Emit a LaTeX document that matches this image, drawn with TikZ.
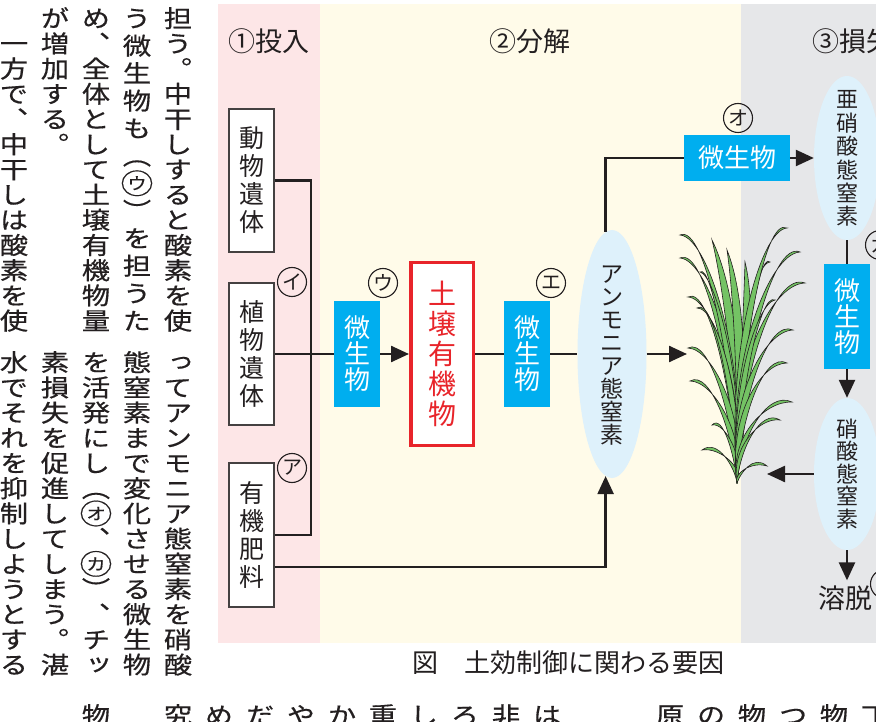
\documentclass[tikz,border=0pt]{standalone}
\usepackage{fontspec}
\usetikzlibrary{shapes.geometric,arrows.meta,calc}

\newfontfamily\jp{Noto Sans CJK JP}
\newfontfamily\jpbody[FakeStretch=1.18,FakeBold=0.5,RawFeature={+vert}]{Noto Sans CJK JP}

\definecolor{ink}{RGB}{35,31,32}
\definecolor{pinkbg}{RGB}{253,230,231}
\definecolor{creambg}{RGB}{255,251,233}
\definecolor{graybg}{RGB}{230,231,233}
\definecolor{lblue}{RGB}{222,241,251}
\definecolor{mblue}{RGB}{0,174,239}
\definecolor{soilred}{RGB}{232,36,42}
\definecolor{leafg}{RGB}{116,195,100}

% stack the characters of #2 one under another, baselines #1 apart
\ExplSyntaxOn
\NewDocumentCommand{\tate}{m m}
  {
    \vbox
      {
        \baselineskip = #1 \relax
        \lineskiplimit = -\maxdimen
        \tl_map_inline:nn {#2}
          { \hbox { \rule[-0.12em]{0pt}{1em} \makebox[1.25em]{##1} } }
      }
  }
\ExplSyntaxOff

% katakana set small inside a large circle, for running text
\newcommand\maru[1]{\makebox[1em]{%
  \makebox[0pt]{\raisebox{-0.06em}{\scalebox{1.15}{◯}}}%
  \makebox[0pt]{\raisebox{0.11em}{\scalebox{0.7}{#1}}}}}

% one rice leaf from the common base: controls #1 and #2, tip #3,
% offsets #4 and #5 shape the return edge
\newcommand\leaf[5]{%
  \filldraw[leafst] (737,483) .. controls #1 and #2 .. #3
    .. controls ($#2+#5$) and ($#1+#4$) .. (737,483);}

\tikzset{
  conn/.style={draw=ink, line width=2.4pt},
  arr/.style={conn, -{Triangle[length=18pt,width=16pt]}},
  wbox/.style={draw=ink!85, line width=1.1pt, fill=white, inner sep=0pt,
    minimum width=45pt, text=ink, font=\jp\fontsize{25}{25}\selectfont},
  bbox/.style={fill=mblue, inner sep=0pt, text=white,
    font=\jp\fontsize{26}{26}\selectfont},
  ell/.style={ellipse, fill=lblue, inner sep=0pt},
  elltext/.style={inner sep=0pt, text=ink, font=\jp\fontsize{22}{22}\selectfont},
  circ/.style={circle, draw=ink, line width=1.1pt, minimum size=29pt, inner sep=0pt,
    text=ink, font=\jp\fontsize{20}{20}\selectfont},
  head/.style={inner sep=0pt, text=ink, font=\jp\fontsize{27}{27}\selectfont},
  col/.style={anchor=north, inner sep=0pt, text=ink,
    font=\jpbody\fontsize{24}{24}\selectfont},
  leafst/.style={fill=leafg, draw=ink, line width=0.6pt},
}

\begin{document}
\begin{tikzpicture}[x=1pt,y=-1pt]
\useasboundingbox (0,0) rectangle (876,722);
\clip (0,0) rectangle (876,722);
\fill[white] (0,0) rectangle (876,722);

% ---- body text columns (upper tier) ----
\node[col] (u1) at (178,6) {\tate{25.2pt}{担う。中干しすると酸素を使}};
\node[col] (u2) at (137,6) {\tate{27.5pt}{う微生物も（{\maru{ウ}}）を担うた}};
\node[col] (u3) at (96,6)  {\tate{25.2pt}{め、全体として土壌有機物量}};
\node[col] (u4) at (55,6)  {\tate{25.2pt}{が増加する。}};
\node[col] (u5) at (14,6)  {\tate{25.2pt}{{}一方で、中干しは酸素を使}};

% ---- body text columns (lower tier) ----
\node[col] (l1) at (178,350) {\tate{25.2pt}{ってアンモニア態窒素を硝酸}};
\node[col] (l2) at (137,350) {\tate{25.2pt}{態窒素まで変化させる微生物}};
\node[col] (l3) at (96,350)  {\tate{25.2pt}{を活発にし（{\maru{オ}}、{\maru{カ}}）、チッ}};
\node[col] (l4) at (55,350)  {\tate{25.2pt}{素損失を促進してしまう。湛}};
\node[col] (l5) at (14,350)  {\tate{25.2pt}{水でそれを抑制しようとする}};

% ---- first characters of the next tier ----
\foreach \cx/\ch [count=\i] in {96/物,178/究,219/め,260/だ,301/や,342/か,383/重,
  424/し,465/ろ,506/非,547/は,670/原,711/の,752/物,793/つ,834/物,875/丁}
  \node[col] (n\i) at (\cx,703) {\tate{25.2pt}{\ch}};

% ---- panels ----
\fill[pinkbg]  (218,4) rectangle (320,643);
\fill[creambg] (320,4) rectangle (741,643);
\fill[graybg]  (741,4) rectangle (876,643);

\node[head] (h1) at (269,41) {①投入};
\node[head] (h2) at (530,41) {②分解};
\node[head, anchor=west] (h3) at (812,41) {③損失};

% ---- inputs ----
\node[wbox, minimum height=143pt] (ani) at (251.5,180.5) {\tate{28pt}{動物遺体}};
\node[wbox, minimum height=142pt] (pla) at (251.5,354) {\tate{28pt}{植物遺体}};
\node[wbox, minimum height=144pt] (org) at (251.5,535) {\tate{28pt}{有機肥料}};

% ---- decomposition ----
\node[bbox, minimum width=46pt, minimum height=106pt] (m1) at (357,354) {\tate{26pt}{微生物}};
\node[draw=soilred, line width=3.5pt, fill=white, minimum width=62.5pt,
  minimum height=182.5pt, inner sep=0pt, text=soilred,
  font=\jp\fontsize{28}{28}\selectfont] (soil) at (442,354) {\tate{30pt}{土壌有機物}};
\node[bbox, minimum width=46pt, minimum height=106pt] (m2) at (527,354) {\tate{26pt}{微生物}};

\node[ell, minimum width=69pt, minimum height=248pt] (amm) at (612,354) {};
\node[elltext, font=\jp\fontsize{23}{23}\selectfont] (ammt) at (amm) {\tate{23pt}{アンモニア態窒素}};

\node[bbox, minimum width=106pt, minimum height=46pt] (m3) at (737,158) {微生物};

% ---- losses ----
\node[ell, minimum width=66pt, minimum height=164pt] (nitri) at (847,158) {};
\node[elltext] (nitrit) at (nitri) {\tate{23.4pt}{亜硝酸態窒素}};
\node[bbox, minimum width=46pt, minimum height=105pt] (m4) at (847,316.5) {\tate{26pt}{微生物}};
\node[ell, minimum width=66pt, minimum height=152pt] (nitr) at (847,474) {};
\node[elltext] (nitrt) at (nitr) {\tate{22.5pt}{硝酸態窒素}};
\node[head] (leach) at (845,598) {溶脱};
\coordinate (leachtop) at ([yshift=5pt]leach.north);

% ---- rice plant ----
\coordinate (plantL) at (687,354);
\coordinate (plantR) at (767,476);
\leaf{(736,380)}{(722,280)}{(712,240)}{(12,0)}{(11,2)}
\leaf{(738,380)}{(733,290)}{(727,250)}{(12,0)}{(11,2)}
\leaf{(740,380)}{(744,300)}{(745,262)}{(12,0)}{(11,2)}
\leaf{(740,370)}{(758,250)}{(770,262)}{(-12,0)}{(-4,12)}
\leaf{(734,371)}{(706,223)}{(680,235)}{(14,0)}{(4,14)}
\leaf{(734,382)}{(706,246)}{(680,258)}{(14,0)}{(4,14)}
\leaf{(734,385)}{(712,262)}{(700,272)}{(12,0)}{(3,12)}
\leaf{(734,399)}{(710,285)}{(688,297)}{(13,0)}{(4,13)}
\leaf{(734,404)}{(715,296)}{(697,308)}{(11,0)}{(3,11)}
\leaf{(734,422)}{(710,336)}{(688,348)}{(13,0)}{(4,13)}
\leaf{(734,437)}{(711,369)}{(690,381)}{(12,0)}{(3,12)}
\leaf{(735,457)}{(723,413)}{(712,425)}{(9,0)}{(2,9)}
\leaf{(735,468)}{(718,438)}{(702,450)}{(9,0)}{(2,9)}
\leaf{(740,353)}{(764,216)}{(787,228)}{(-14,0)}{(-4,14)}
\leaf{(740,365)}{(772,240)}{(800,252)}{(-14,0)}{(-4,14)}
\leaf{(740,373)}{(774,271)}{(805,283)}{(-13,0)}{(-4,13)}
\leaf{(740,390)}{(760,292)}{(775,300)}{(-11,0)}{(-3,11)}
\leaf{(740,399)}{(768,318)}{(793,330)}{(-13,0)}{(-4,13)}
\leaf{(740,417)}{(764,351)}{(787,363)}{(-12,0)}{(-4,12)}
\leaf{(740,438)}{(767,390)}{(792,402)}{(-11,0)}{(-3,11)}
\leaf{(740,448)}{(761,408)}{(780,420)}{(-9,0)}{(-2,9)}
\leaf{(740,474)}{(753,454)}{(767,466)}{(-7,0)}{(-2,7)}

% ---- circled labels ----
\node[circ] (kI) at (292,282) {イ};
\node[circ] (kA) at (292,468) {ア};
\node[circ] (kU) at (383,283) {ウ};
\node[circ] (kE) at (551,283) {エ};
\node[circ] (kO) at (738,118) {オ};
\node[circ] (kKa) at (880,245) {カ};
\node[circ] (kKi) at (885,584) {キ};

% ---- connectors ----
\coordinate (jn) at (311,354);
\draw[conn] (ani.east) -| (jn) |- (org.east);
\draw[conn] (pla.east) -- (m1.west);
\draw[arr] (m1.east) -- (soil.west);
\draw[conn] (soil.east) -- (m2.west);
\draw[conn] (m2.east) -- (amm.west);
\draw[arr] (amm.east) -- (plantL);
\draw[conn] (amm.93) |- (m3.west);
\draw[arr] (m3.east) -- (nitri.west);
\draw[conn] (nitri.south) -- (m4.north);
\draw[arr] (m4.south) -- (nitr.north);
\draw[arr] (nitr.west) -- (nitr.west -| plantR);
\draw[arr] (nitr.south) -- (nitr.south |- leachtop);
\draw[arr] ([yshift=-32pt]org.east) -| (amm.267);

% ---- caption ----
\node[inner sep=0pt, text=ink, font=\jp\fontsize{26}{26}\selectfont] (cap) at (568,663)
  {図　土効制御に関わる要因};
\end{tikzpicture}
\end{document}
